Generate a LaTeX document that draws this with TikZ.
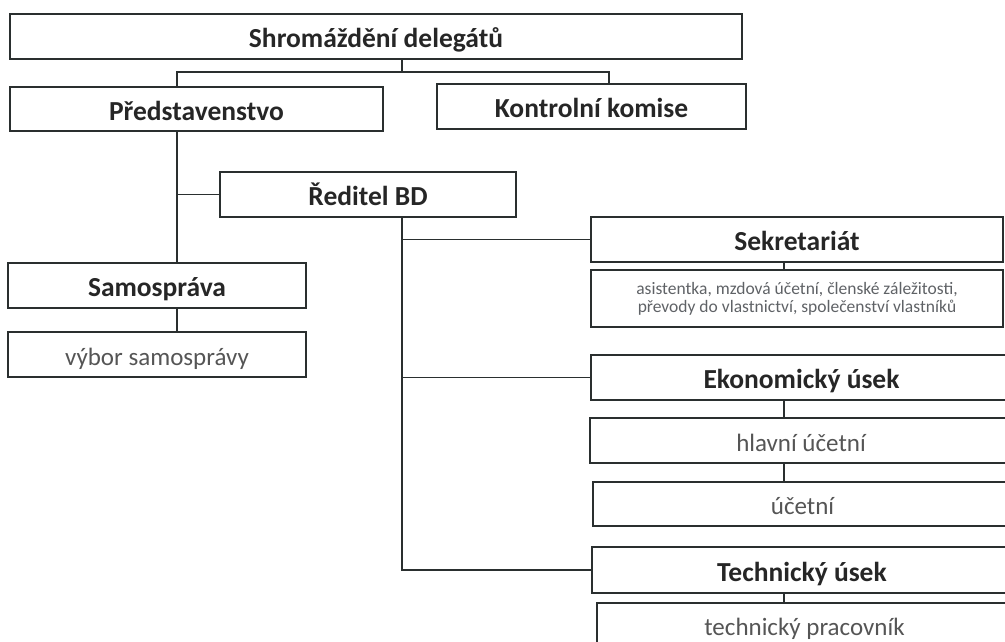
\documentclass[tikz,border=0pt]{standalone}
\usepackage{fontspec}
\setmainfont{Carlito}
\usetikzlibrary{calc}
\definecolor{inkline}{HTML}{2A2F2F}
\definecolor{inkhead}{HTML}{262626}
\definecolor{inksub}{HTML}{555555}
\definecolor{inknote}{HTML}{5F6266}
\tikzset{
	unit/.style={draw=inkline, line width=1.8pt, text=inkhead, inner sep=0pt, text height=22pt, text depth=0pt, font=\bfseries\fontsize{27.5}{32}\selectfont},
	subunit/.style={draw=inkline, line width=1.8pt, text=inksub, inner sep=0pt, text height=21pt, text depth=0pt, font=\fontsize{25}{30}\selectfont},
	note/.style={draw=inkline, line width=1.8pt, text=inknote, inner sep=0pt, align=center, font=\fontsize{17.5}{18}\selectfont},
	link/.style={draw=inkline, line width=1.8pt},
}

\begin{document}
\begin{tikzpicture}[x=1pt, y=-1pt]
			%%%%% START %%%%%
			
			\useasboundingbox (0, 0) rectangle (1005, 641);
			\clip (0, 0) rectangle (1005, 641);
			
			\node[unit, minimum width=732pt, minimum height=45pt] (delegati) at (376, 36.5) {Shromáždění delegátů};
			
			\node[unit, minimum width=373pt, minimum height=44pt] (predstavenstvo) at (196.5, 109) {Představenstvo};
			\node[unit, minimum width=309pt, minimum height=45pt] (komise) at (591.5, 106.5) {Kontrolní komise};
			
			\node[unit, minimum width=296pt, minimum height=45pt] (reditel) at (368, 194.5) {Ředitel BD};
			
			\node[unit, minimum width=298pt, minimum height=45pt] (samosprava) at (157, 285.5) {Samospráva};
			\node[subunit, minimum width=298pt, minimum height=45pt] (vybor) at (157, 354.5) {výbor samosprávy};
			
			\node[unit, minimum width=412pt, minimum height=45pt] (sekretariat) at (797, 239.5) {Sekretariát};
			\node[note, minimum width=412pt, minimum height=57pt] (asistentka) at (797, 298.5) {asistentka, mzdová účetní, členské záležitosti,\\převody do vlastnictví, společenství vlastníků};
			
			\node[unit, minimum width=421pt, minimum height=45pt] (ekonomicky) at (801.5, 377.5) {Ekonomický úsek};
			\node[subunit, minimum width=422pt, minimum height=45pt] (hlavni) at (801, 440.5) {hlavní účetní};
			\node[subunit, minimum width=419pt, minimum height=44pt] (ucetni) at (802.5, 504) {účetní};
			
			\node[unit, minimum width=420pt, minimum height=46pt] (technicky) at (802, 570) {Technický úsek};
			\node[subunit, minimum width=415pt, minimum height=44pt] (pracovnik) at (804.5, 625) {technický pracovník};
			
			% spines
			\coordinate (leftspine) at (177, 0);
			\coordinate (midspine) at (402, 0);
			\coordinate (komisex) at (609, 0);
			\coordinate (subspine) at (784, 0);
			\coordinate (fork) at (402, 72);
			
			\draw[link] (delegati.south -| midspine) -- (fork);
			\draw[link] (predstavenstvo.north -| leftspine) |- (fork) -| (komise.north -| komisex);
			
			\draw[link] (predstavenstvo.south -| leftspine) -- (samosprava.north -| leftspine);
			\draw[link] (leftspine |- reditel.west) -- (reditel.west);
			\draw[link] (samosprava.south -| leftspine) -- (vybor.north -| leftspine);
			
			\draw[link] (reditel.south -| midspine) -- (midspine |- technicky.west) -- (technicky.west);
			\draw[link] (midspine |- sekretariat.west) -- (sekretariat.west);
			\draw[link] (midspine |- ekonomicky.west) -- (ekonomicky.west);
			
			\draw[link] (sekretariat.south -| subspine) -- (asistentka.north -| subspine);
			\draw[link] (ekonomicky.south -| subspine) -- (hlavni.north -| subspine);
			\draw[link] (hlavni.south -| subspine) -- (ucetni.north -| subspine);
			\draw[link] (technicky.south -| subspine) -- (pracovnik.north -| subspine);
			
			%%%%% END %%%%%
\end{tikzpicture}
\end{document}
